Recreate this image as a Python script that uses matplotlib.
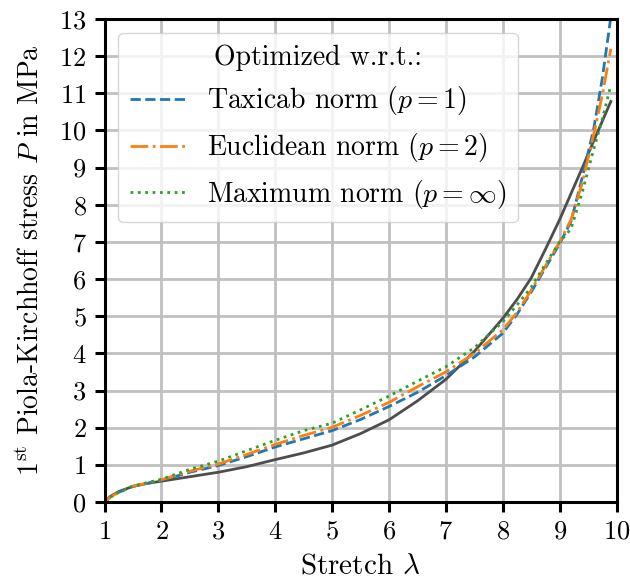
import matplotlib
matplotlib.use("Agg")
import matplotlib.pyplot as plt

plt.rcParams['font.family'] = 'serif'
plt.rcParams['font.serif'] = ['cmr10']
plt.rcParams['mathtext.fontset'] = 'cm'
plt.rcParams['axes.formatter.use_mathtext'] = True

# Stretch values
lam = [1.0, 1.1, 1.25, 1.5, 1.75, 2.0, 2.5, 3.0, 3.5, 4.0, 4.5, 5.0, 5.5, 6.0,
       6.5, 7.0, 7.5, 8.0, 8.25, 8.5, 8.75, 9.0, 9.2, 9.4, 9.6, 9.75, 9.9]

# Reference data (gray)
p_ref = [0.0, 0.15, 0.28, 0.42, 0.50, 0.56, 0.68, 0.80, 0.95, 1.14, 1.32, 1.53, 1.84, 2.21,
         2.72, 3.30, 4.05, 4.94, 5.45, 6.03, 6.80, 7.60, 8.30, 9.00, 9.72, 10.25, 10.78]

# Optimized models
p_taxi = [0.0, 0.13, 0.26, 0.42, 0.50, 0.58, 0.80, 0.98, 1.22, 1.48, 1.70, 1.92, 2.22, 2.57,
          2.95, 3.40, 3.90, 4.54, 5.05, 5.65, 6.30, 6.95, 7.55, 8.75, 10.05, 11.40, 13.05]
p_eucl = [0.0, 0.13, 0.26, 0.42, 0.51, 0.60, 0.83, 1.02, 1.28, 1.55, 1.79, 2.01, 2.33, 2.68,
          3.10, 3.50, 4.00, 4.63, 5.10, 5.70, 6.35, 7.00, 7.60, 8.60, 9.90, 10.95, 12.20]
p_max = [0.0, 0.13, 0.27, 0.43, 0.52, 0.61, 0.88, 1.10, 1.38, 1.66, 1.92, 2.12, 2.48, 2.85,
         3.25, 3.64, 4.15, 4.85, 5.30, 5.78, 6.40, 7.00, 7.35, 8.35, 9.50, 10.30, 11.22]

fig = plt.figure(figsize=(6.3, 5.83), dpi=100)
ax = fig.add_axes([0.166, 0.139, 0.8126, 0.8284])

ax.plot(lam, p_ref, '-', color='#4d4d4d', linewidth=2)
ax.plot(lam, p_taxi, '--', color='tab:blue', linewidth=2, label='Taxicab norm $(p=1)$')
ax.plot(lam, p_eucl, '-.', color='tab:orange', linewidth=2, label='Euclidean norm $(p=2)$')
ax.plot(lam, p_max, ':', color='tab:green', linewidth=2, label=r'Maximum norm $(p=\infty)$')

ax.set_xlim(1, 10)
ax.set_ylim(0, 13)
ax.set_xticks(range(1, 11))
ax.set_yticks(range(0, 14))
ax.grid(True, color='#c0c0c0', linewidth=2)
ax.set_axisbelow(True)

for s in ax.spines.values():
    s.set_linewidth(2.2)
ax.tick_params(direction='out', length=7, width=2.2, labelsize=19, pad=6)

ax.set_xlabel(r'Stretch $\lambda$', fontsize=21, labelpad=7)
ax.set_ylabel(r'1$^{\mathrm{st}}$ Piola-Kirchhoff stress $P$ in MPa', fontsize=20, labelpad=10)

leg = ax.legend(title='Optimized w.r.t.:', loc='upper left', fontsize=20,
                title_fontsize=20, handlelength=2.0, borderaxespad=0.5)

fig.savefig('out.png', dpi=100)
